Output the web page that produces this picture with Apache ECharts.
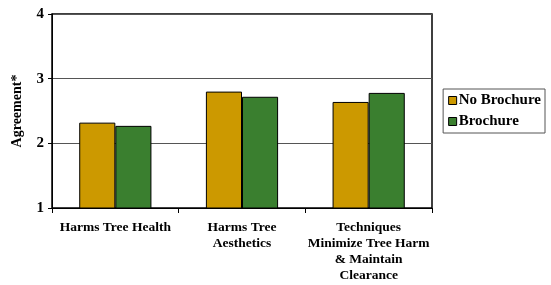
<!DOCTYPE html>
<html>
<head>
<meta charset="utf-8">
<script src="https://cdn.jsdelivr.net/npm/echarts@6/dist/echarts.min.js"></script>
<style>
  html, body { margin: 0; padding: 0; background: #fff; }
  #chart { width: 551px; height: 285px; }
</style>
</head>
<body>
<div id="chart"></div>
<script>
const categories = [
  'Harms Tree Health',
  'Harms Tree\nAesthetics',
  'Techniques\nMinimize Tree Harm\n& Maintain\nClearance'
];
const noBrochure = [2.32, 2.80, 2.64];
const brochure = [2.27, 2.72, 2.78];
const yTicks = [1, 2, 3, 4];

const serif = 'Liberation Serif, Times New Roman, serif';

const chart = echarts.init(document.getElementById('chart'));

chart.setOption({
  animation: false,
  grid: {
    left: 52,
    right: 119,
    top: 14,
    bottom: 77,
    show: true,
    borderColor: '#000',
    borderWidth: 1.5
  },
  legend: {
    orient: 'vertical',
    right: 6,
    top: 89,
    itemWidth: 8,
    itemHeight: 8,
    itemGap: 6,
    padding: [4, 4, 4, 5],
    borderColor: '#555',
    borderWidth: 1,
    icon: 'rect',
    itemStyle: { borderColor: '#000', borderWidth: 1 },
    textStyle: { fontFamily: serif, fontWeight: 'bold', fontSize: 15, color: '#000', padding: [0, 0, 0, -3] },
    data: ['No Brochure', 'Brochure']
  },
  xAxis: {
    type: 'category',
    data: categories,
    axisLine: { lineStyle: { color: '#000', width: 1 } },
    axisTick: { show: true, length: 5, lineStyle: { color: '#000' } },
    axisLabel: {
      interval: 0,
      margin: 12,
      fontFamily: serif,
      fontWeight: 'bold',
      fontSize: 13.5,
      lineHeight: 16,
      color: '#000'
    }
  },
  yAxis: {
    type: 'value',
    min: yTicks[0],
    max: yTicks[yTicks.length - 1],
    interval: 1,
    name: 'Agreement*',
    nameLocation: 'middle',
    nameGap: 28,
    nameTextStyle: { fontFamily: serif, fontWeight: 'bold', fontSize: 14, color: '#000' },
    axisLine: { show: true, lineStyle: { color: '#000', width: 1 } },
    axisTick: { show: true, length: 4, lineStyle: { color: '#000' } },
    axisLabel: {
      margin: 8,
      fontFamily: serif,
      fontWeight: 'bold',
      fontSize: 15,
      color: '#000'
    },
    splitLine: { lineStyle: { color: '#555', width: 1 } }
  },
  series: [
    {
      name: 'No Brochure',
      type: 'bar',
      data: noBrochure,
      barGap: '0%',
      barCategoryGap: '43%',
      itemStyle: { color: '#CC9900', borderColor: '#000', borderWidth: 1 }
    },
    {
      name: 'Brochure',
      type: 'bar',
      data: brochure,
      itemStyle: { color: '#3A7F2F', borderColor: '#000', borderWidth: 1 }
    }
  ]
});
</script>
</body>
</html>
